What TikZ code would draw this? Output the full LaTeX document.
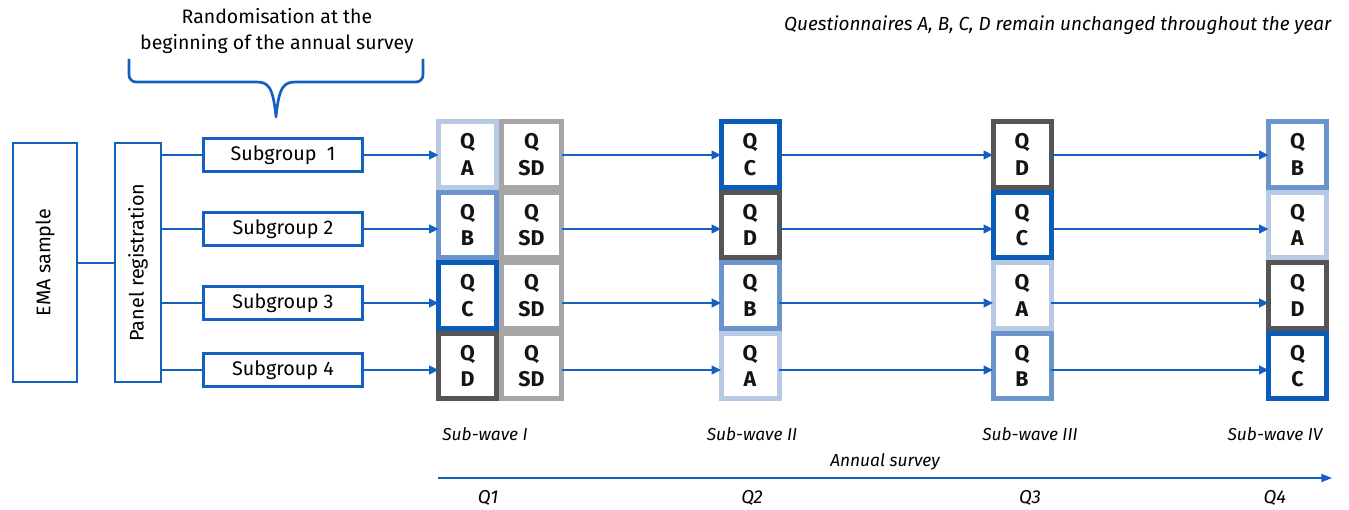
\documentclass[tikz,border=0pt]{standalone}
\usepackage{fontspec}
\setmainfont{Fira Sans}
\usetikzlibrary{arrows.meta,calc}
\definecolor{lineblue}{HTML}{1460BE}
\definecolor{qA}{HTML}{B8C9E3}
\definecolor{qB}{HTML}{6B93CC}
\definecolor{qC}{HTML}{0B5CB8}
\definecolor{qD}{HTML}{555555}
\definecolor{qSD}{HTML}{A6A6A6}
\def\PX{0.75pt}
\tikzset{
  conn/.style={draw=lineblue, line width=1.5pt},
  arr/.style={conn, -{Triangle[length=7pt,width=6.5pt]}},
  bluebox/.style={draw=lineblue, line width=2pt, fill=white, inner sep=0pt, outer sep=0pt},
  qbox/.style={draw=#1, line width=3.75pt, fill=white, minimum width=58*\PX, minimum height=65.5*\PX,
     inner sep=0pt, outer sep=0pt, align=center, font=\fontsize{16}{20}\selectfont\bfseries, text=black!92},
  sglabel/.style={font=\fontsize{14.8}{16}\selectfont},
  itl/.style={font=\fontsize{13}{15}\selectfont\itshape},
}
\begin{document}
\begin{tikzpicture}[x=0.75pt,y=-0.75pt]
\useasboundingbox (0,0) rectangle (1349,510);
% left boxes
\node[bluebox, minimum width=64*\PX, minimum height=239*\PX] (ema) at (45,262.5) {};
\node[rotate=90, sglabel] (emat) at (ema.center) {EMA sample};
\node[bluebox, minimum width=46*\PX, minimum height=239*\PX] (panel) at (138,262.5) {};
\node[rotate=90, sglabel] (panelt) at (panel.center) {Panel registration};
\draw[conn] (ema.east) -- (panel.west);
% subgroups
\foreach \i/\y/\t in {1/155/{Subgroup\ \ 1},2/229/Subgroup 2,3/303/Subgroup 3,4/370/Subgroup 4}{
  \node[bluebox, sglabel, minimum width=159.5*\PX, minimum height=33*\PX] (sg\i) at (283,\y) {\t};
  \draw[conn] (sg\i.west -| panel.east) -- (sg\i.west);
}
% Q boxes
\def\cA{467.5}\def\cS{531.5}\def\cB{750}\def\cC{1022}\def\cD{1297.5}
\foreach \r/\y in {1/154.5,2/225,3/295.5,4/366}{
  \node[qbox=qSD, minimum width=60*\PX] (sd\r) at (\cS,\y) {Q\\SD};
}
\foreach \c/\x/\la/\lb/\lc/\ld in {1/\cA/A/B/C/D, 2/\cB/C/D/B/A, 3/\cC/D/C/A/B, 4/\cD/B/A/D/C}{
  \node[qbox=q\la] (q\c1) at (\x,154.5) {Q\\\la};
  \node[qbox=q\lb] (q\c2) at (\x,225) {Q\\\lb};
  \node[qbox=q\lc] (q\c3) at (\x,295.5) {Q\\\lc};
  \node[qbox=q\ld] (q\c4) at (\x,366) {Q\\\ld};
}
% arrows
\foreach \r in {1,2,3,4}{
  \draw[arr] (sg\r.east) -- (sg\r.east -| q1\r.west);
  \draw[arr] (sg\r.east -| sd\r.east) -- (sg\r.east -| q2\r.west);
  \draw[arr] (sg\r.east -| q2\r.east) -- (sg\r.east -| q3\r.west);
  \draw[arr] (sg\r.east -| q3\r.east) -- (sg\r.east -| q4\r.west);
}
% brace
\draw[draw=lineblue, line width=2pt, line join=round]
  (129,59) -- (129,75) arc[start angle=180,end angle=90,radius=7] -- (256,82)
  .. controls (268,82) and (273,86) .. (276,117)
  .. controls (279,86) and (284,82) .. (296,82) -- (416,82)
  arc[start angle=90,end angle=0,radius=7] -- (423,59);
\node[font=\fontsize{14.6}{20}\selectfont, align=center] (rand) at (277,31) {Randomisation at the\\beginning of the annual survey};
\node[font=\fontsize{14.2}{16}\selectfont\itshape, anchor=east] (top) at (1336,25) {Questionnaires A, B, C, D remain unchanged throughout the year};
% bottom
\node[itl] (w1) at (485,434) {Sub-wave I};
\node[itl] (w2) at (752,434) {Sub-wave II};
\node[itl] (w3) at (1030,434) {Sub-wave III};
\node[itl] (w4) at (1275,434) {Sub-wave IV};
\node[itl] (ann) at (885,462) {Annual survey};
\coordinate (ax0) at (438,478);
\coordinate (ax1) at (1332,478);
\draw[draw=lineblue, line width=1.2pt, -{Triangle[length=8pt,width=6pt]}] (ax0) -- (ax1);
\node[itl, font=\fontsize{14}{15}\selectfont\itshape] (k1) at (488,498) {Q1};
\node[itl, font=\fontsize{14}{15}\selectfont\itshape] (k2) at (752,498) {Q2};
\node[itl, font=\fontsize{14}{15}\selectfont\itshape] (k3) at (1030,498) {Q3};
\node[itl, font=\fontsize{14}{15}\selectfont\itshape] (k4) at (1275,498) {Q4};
\end{tikzpicture}
\end{document}
